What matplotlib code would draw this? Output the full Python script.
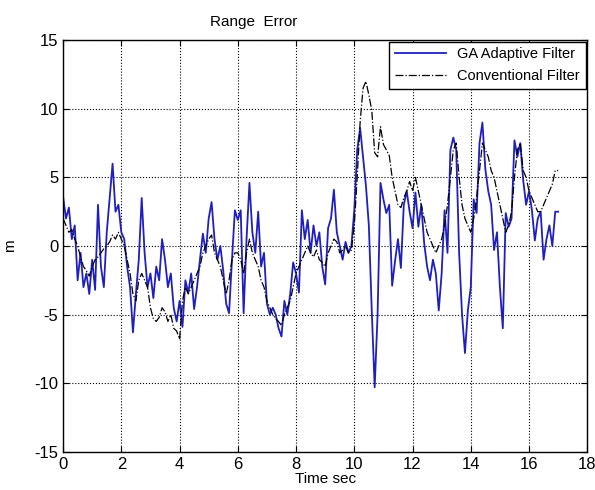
import numpy as np
import matplotlib
matplotlib.use('Agg')
import matplotlib.pyplot as plt

plt.rcParams['font.family'] = ['Liberation Sans', 'DejaVu Sans']
plt.rcParams['axes.unicode_minus'] = False

t = np.round(np.arange(0, 171) * 0.1, 1)

ga = [3.6, 2.0, 2.8, 0.5, 1.5, -2.5, -0.5, -3.0, -2.0, -3.5,
      -1.0, -3.2, 3.0, -1.5, -3.0, 1.0, 3.5, 6.0, 2.5, 3.0,
      1.0, 0.5, -1.5, -3.0, -6.3, -3.5, -1.0, 3.5, -0.5, -3.0,
      -2.0, -3.8, -1.5, -2.5, 0.5, -1.0, -3.0, -2.0, -4.5, -5.5,
      -4.0, -5.9, -2.5, -3.4, -2.0, -4.6, -3.0, -1.0, 0.9, -0.5,
      2.0, 3.2, 0.5, -1.0, 0.0, -1.8, -4.2, -4.9, -1.0, 2.6,
      1.9, 2.6, -4.9, 0.5, 4.6, 1.0, -0.5, 2.5, -1.5, -0.5,
      -4.2, -5.0, -4.5, -5.0, -6.0, -6.6, -4.0, -5.0, -3.5, -1.2,
      -2.0, -3.4, 2.6, 0.5, 1.9, -0.5, 1.5, 0.0, 1.0, -1.5,
      -2.8, 1.3, 2.0, 4.1, 1.0, 0.0, -1.0, 0.3, -0.5, 0.0,
      2.6, 7.0, 8.6, 6.5, 4.4, 1.5, -4.7, -10.3, -5.0, 4.6,
      3.4, 2.4, 3.0, -2.9, -1.1, 0.5, -1.6, 3.0, 4.0, 2.5,
      1.3, 3.9, 1.4, 3.0, 0.2, -1.5, -2.5, -1.0, -2.0, -4.7,
      -2.0, 2.6, -0.5, 7.0, 7.9, 7.0, -0.5, -5.0, -7.8, -4.7,
      -3.0, 3.4, 2.4, 7.5, 9.0, 5.6, 4.0, 3.0, -0.3, 1.0,
      -3.0, -6.0, 2.4, 1.4, 2.0, 7.7, 6.5, 7.5, 4.8, 3.0,
      4.0, 2.6, 0.4, 2.0, 2.5, -1.0, 0.5, 1.5, 0.0, 2.5,
      2.5]

conv = [2.0, 1.5, 1.0, 1.2, 0.5, 0.0, -0.8, -1.5, -1.8, -2.2,
        -1.5, -1.0, -0.8, -0.5, -0.2, 0.0, 0.3, 0.8, 0.5, 1.0,
        0.5, 0.0, -1.0, -2.0, -3.5, -4.0, -2.5, -2.0, -2.5, -3.0,
        -4.5, -5.3, -5.5, -5.2, -4.5, -4.8, -5.5, -5.0, -6.0, -6.2,
        -6.8, -4.0, -3.0, -3.5, -3.0, -2.5, -2.0, -1.5, -0.5, 0.0,
        0.5, 0.8, -0.5, -1.0, -1.5, -2.5, -3.5, -2.5, -1.0, -0.5,
        -0.5, -1.0, -2.0, -0.5, 0.5, -0.5, -1.0, -1.5, -2.5, -3.0,
        -4.0, -4.5, -5.0, -5.3, -5.5, -5.8, -5.0, -4.5, -4.0, -3.0,
        -2.0, -1.5, -1.0, -0.5, 0.0, -0.5, -0.8, -0.3, -1.0, -1.2,
        -1.5, -0.5, 0.0, 0.5, 0.3, -0.5, -0.3, 0.0, -0.5, -0.3,
        1.5, 5.0, 9.0, 11.5, 12.0, 11.0, 9.9, 6.8, 6.5, 8.7,
        7.4, 7.0, 6.6, 5.0, 4.0, 3.0, 2.8, 3.5, 4.0, 4.7,
        4.0, 5.0, 4.0, 3.0, 2.0, 1.0, 0.5, 0.0, -0.5, 0.0,
        0.5, 1.5, 3.0, 5.0, 7.0, 7.5, 5.0, 3.0, 2.0, 1.5,
        1.0, 2.0, 3.5, 5.5, 7.5, 7.0, 6.5, 5.5, 5.0, 4.0,
        3.0, 2.0, 1.0, 1.5, 2.5, 5.0, 7.0, 7.5, 5.5, 5.0,
        4.0, 3.5, 3.0, 2.5, 2.5, 3.0, 3.5, 4.0, 4.5, 5.5,
        5.5]

fig = plt.figure(figsize=(5.95, 4.9), dpi=100)
ax = fig.add_axes([0.106, 0.078, 0.881, 0.84])

ax.plot(t, ga, color='#1f1fc0', lw=1.3, label='GA Adaptive Filter')
ax.plot(t, conv, color='black', lw=0.9, ls='-.', label='Conventional Filter')

ax.set_xlim(0, 18)
ax.set_ylim(-15, 15)
ax.set_xticks(np.arange(0, 19, 2))
ax.set_yticks(np.arange(-15, 16, 5))
ax.grid(True, color='black', ls=':', lw=0.8)
ax.tick_params(direction='in', top=True, right=True, labelsize=12, length=4)
for s in ax.spines.values():
    s.set_linewidth(1.0)

ax.set_xlabel('Time sec', fontsize=11, labelpad=0)
ax.set_ylabel('m', fontsize=11, labelpad=12)
fig.text(254 / 595, 1 - 22 / 490, 'Range  Error', ha='center', va='center', fontsize=11)

leg = ax.legend(loc='upper right', fontsize=10.5, fancybox=False, framealpha=1,
                edgecolor='black', borderaxespad=0.1, handlelength=3.5)
leg.get_frame().set_linewidth(1.0)

fig.savefig('out.png', dpi=100)
